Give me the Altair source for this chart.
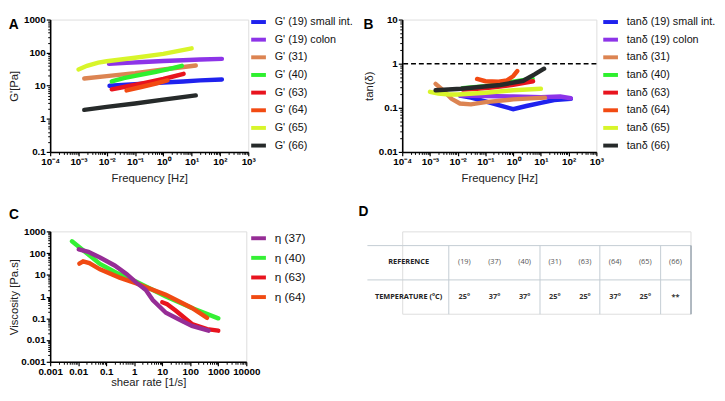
import altair as alt
import pandas as pd

FONT = "Liberation Sans"
TFONT = "Open Sans"

# ---------------- Panel A : G' [Pa] vs Frequency [Hz] ----------------
a_labels = ["G' (19) small int.", "G' (19) colon", "G' (31)", "G' (40)",
            "G' (63)", "G' (64)", "G' (65)", "G' (66)"]
colors8 = ["#1f22ee", "#8d34e8", "#dc8452", "#2ef02e",
           "#e8141e", "#f24a12", "#d8f52a", "#262a2a"]

a_f_19si = [0.0125, 0.05, 0.2, 1, 5, 20, 117]
a_g_19si = [10, 10.8, 11.5, 12.5, 13.5, 14.5, 15.5]
a_f_19co = [0.012, 0.05, 0.2, 1, 5, 20, 117]
a_g_19co = [46, 49, 52, 56, 59, 62, 65]
a_f_31 = [0.0016, 0.01, 0.1, 1, 14]
a_g_31 = [16.6, 19.5, 24, 31, 41]
a_f_40 = [0.015, 0.04, 0.1, 0.5, 1.5, 4.5]
a_g_40 = [13.5, 17, 20, 26, 32, 40]
a_f_63 = [0.015, 0.05, 0.2, 1, 5.2]
a_g_63 = [7.8, 9.5, 12, 16, 23]
a_f_64 = [0.05, 0.15, 0.5, 1.4]
a_g_64 = [7.2, 9, 11.5, 14.5]
a_f_65 = [0.001, 0.002, 0.005, 0.01, 0.1, 1, 10]
a_g_65 = [31, 40, 50, 55, 70, 92, 135]
a_f_66 = [0.0016, 0.01, 0.1, 1, 14]
a_g_66 = [1.87, 2.3, 2.9, 3.8, 5.1]

# ---------------- Panel B : tan(delta) vs Frequency [Hz] ----------------
b_labels = ["tan\u03b4 (19) small int.", "tan\u03b4 (19) colon", "tan\u03b4 (31)", "tan\u03b4 (40)",
            "tan\u03b4 (63)", "tan\u03b4 (64)", "tan\u03b4 (65)", "tan\u03b4 (66)"]
b_f_19si = [0.012, 0.03, 0.1, 0.3, 1, 3, 10, 30, 120]
b_t_19si = [0.19, 0.17, 0.14, 0.115, 0.093, 0.11, 0.13, 0.15, 0.16]
b_f_19co = [0.012, 0.1, 1, 10, 50, 120]
b_t_19co = [0.19, 0.185, 0.18, 0.175, 0.18, 0.165]
b_f_31 = [0.0016, 0.003, 0.006, 0.012, 0.03, 0.1, 1, 14]
b_t_31 = [0.35, 0.25, 0.16, 0.125, 0.12, 0.135, 0.155, 0.17]
b_f_40 = [0.015, 0.1, 0.34, 1, 5]
b_t_40 = [0.28, 0.31, 0.35, 0.39, 0.46]
b_f_63 = [0.015, 0.05, 0.2, 1, 5.2]
b_t_63 = [0.26, 0.27, 0.29, 0.33, 0.40]
b_f_64 = [0.05, 0.1, 0.3, 0.6, 1, 1.4]
b_t_64 = [0.45, 0.40, 0.39, 0.42, 0.52, 0.68]
b_f_65 = [0.001, 0.002, 0.005, 0.01, 0.1, 1, 10]
b_t_65 = [0.23, 0.21, 0.20, 0.20, 0.22, 0.25, 0.27]
b_f_66 = [0.0016, 0.013, 0.34, 2.3, 5.9, 13]
b_t_66 = [0.25, 0.27, 0.33, 0.41, 0.57, 0.77]
b_ref_line = [1.0]

# ---------------- Panel C : viscosity vs shear rate ----------------
c_labels = ["\u03b7 (37)", "\u03b7 (40)", "\u03b7 (63)", "\u03b7 (64)"]
c_colors = ["#962d96", "#35f035", "#e8141e", "#f04a12"]
c_r_40 = [0.006, 0.06, 0.23, 1.2, 13.5, 115, 1000]
c_v_40 = [350, 32, 12.6, 4.8, 1.0, 0.3, 0.1]
c_r_64 = [0.011, 0.015, 0.025, 0.06, 0.3, 1.2, 13.5, 115, 400]
c_v_64 = [33, 42, 35, 18, 7.5, 4, 1.2, 0.3, 0.105]
c_r_63 = [10, 15, 30, 115, 400, 1000]
c_v_63 = [0.55, 0.45, 0.23, 0.055, 0.032, 0.027]
c_r_37 = [0.0105, 0.023, 0.06, 0.2, 0.53, 1.17, 2.6, 4.6, 13.5, 40, 115, 450]
c_v_37 = [150, 114, 63, 27, 11, 4.5, 2.0, 0.7, 0.18, 0.089, 0.045, 0.027]

# ---------------- Panel D : table ----------------
t_rows = ["REFERENCE", "TEMPERATURE (\u00b0C)"]
t_refs = ["(19)", "(37)", "(40)", "(31)", "(63)", "(64)", "(65)", "(66)"]
t_temps = ["25\u00b0", "37\u00b0", "37\u00b0", "25\u00b0", "25\u00b0", "37\u00b0", "25\u00b0", "**"]
t_breaks = ["(19)", "(31)", "(64)", "(66)"]


def long_df(items):
    rows = []
    for lab, xs, ys in items:
        for xv, yv in zip(xs, ys):
            rows.append({"series": lab, "x": xv, "y": yv})
    return pd.DataFrame(rows)


dfA = long_df([
    (a_labels[0], a_f_19si, a_g_19si), (a_labels[1], a_f_19co, a_g_19co),
    (a_labels[2], a_f_31, a_g_31), (a_labels[3], a_f_40, a_g_40),
    (a_labels[4], a_f_63, a_g_63), (a_labels[5], a_f_64, a_g_64),
    (a_labels[6], a_f_65, a_g_65), (a_labels[7], a_f_66, a_g_66)])
dfB = long_df([
    (b_labels[0], b_f_19si, b_t_19si), (b_labels[1], b_f_19co, b_t_19co),
    (b_labels[2], b_f_31, b_t_31), (b_labels[3], b_f_40, b_t_40),
    (b_labels[4], b_f_63, b_t_63), (b_labels[5], b_f_64, b_t_64),
    (b_labels[6], b_f_65, b_t_65), (b_labels[7], b_f_66, b_t_66)])
dfC = long_df([
    (c_labels[1], c_r_40, c_v_40), (c_labels[3], c_r_64, c_v_64),
    (c_labels[2], c_r_63, c_v_63), (c_labels[0], c_r_37, c_v_37)])


def minor_vals(d0, d1):
    return [k * 10.0 ** d for d in range(d0, d1) for k in range(2, 10)]


def decades(d0, d1):
    return [10.0 ** d for d in range(d0, d1 + 1)]


SUP = ("['10\u207b\u2074','10\u207b\u00b3','10\u207b\u00b2','10\u207b\u00b9',"
       "'10\u2070','10\u00b9','10\u00b2','10\u00b3'][round(log(datum.value)/LN10)+4]")

AX = dict(domainColor="black", domainWidth=1.6, tickColor="black", tickWidth=1.2,
          tickSize=4, labelFont=FONT, labelFontSize=10, labelFontWeight="bold",
          labelColor="black", labelOverlap=False, labelFlush=False, grid=False,
          titleFont=FONT, titleFontSize=11.5, titleFontWeight="normal", titleColor="#222")
MINOR = dict(labels=False, title=None, tickSize=2.5, tickColor="black", tickWidth=1,
             domain=False, grid=False)


def panel(df, labels, colors, xd, yd, xtitle, ytitle, letter, width, height,
          sup_x, legend_font, legend_rowpad, legend_y, title_dy, xtpad, ytpad, extra=None):
    xs = alt.Scale(type="log", domain=[10.0 ** xd[0], 10.0 ** xd[1]])
    ys = alt.Scale(type="log", domain=[10.0 ** yd[0], 10.0 ** yd[1]])
    xaxis = dict(AX, values=decades(*xd), title=xtitle, labelPadding=1, titlePadding=xtpad)
    if sup_x:
        xaxis["labelExpr"] = SUP
    else:
        xaxis["format"] = "~g"
    yaxis = dict(AX, values=decades(*yd), format="~g", title=ytitle, labelPadding=1,
                 titlePadding=ytpad)
    main = alt.Chart(df).mark_line(strokeWidth=4.5, strokeCap="round", clip=True).encode(
        x=alt.X("x:Q", scale=xs, axis=alt.Axis(orient="bottom", **xaxis)),
        y=alt.Y("y:Q", scale=ys, axis=alt.Axis(orient="left", **yaxis)),
        color=alt.Color("series:N", sort=labels,
                        scale=alt.Scale(domain=labels, range=colors),
                        legend=alt.Legend(title=None, orient="none", legendX=203,
                                          legendY=legend_y, symbolType="stroke",
                                          symbolStrokeWidth=4, symbolSize=225,
                                          labelFont=FONT, labelFontSize=legend_font,
                                          labelColor="#111", labelOffset=7,
                                          labelLimit=200, rowPadding=legend_rowpad)),
        order=alt.Order("x:Q"),
    )
    minor = alt.Chart(df).mark_point(opacity=0).encode(
        x=alt.X("x:Q", scale=xs, axis=alt.Axis(orient="bottom",
                                               values=minor_vals(xd[0], xd[1]), **MINOR)),
        y=alt.Y("y:Q", scale=ys, axis=alt.Axis(orient="left",
                                               values=minor_vals(yd[0], yd[1]), **MINOR)),
    )
    layers = [main]
    if extra is not None:
        layers.append(extra)
    layers.append(minor)
    return alt.layer(*layers).resolve_axis(x="independent", y="independent").properties(
        width=width, height=height,
        title=alt.TitleParams(letter, anchor="start", frame="bounds", font=FONT,
                              fontSize=14, fontWeight="bold", color="black",
                              offset=0, dy=title_dy, baseline="alphabetic"))


ruleB = alt.Chart(pd.DataFrame({"y": b_ref_line})).mark_rule(
    strokeDash=[5, 3], strokeWidth=1.6, color="black").encode(
    y=alt.Y("y:Q", axis=None))

chartA = panel(dfA, a_labels, colors8, (-4, 3), (-1, 3), "Frequency [Hz]", "G'[Pa]",
               "A", 202, 135, True, 11, 0, -7, 31, 6, 4)
chartB = panel(dfB, b_labels, colors8, (-4, 3), (-2, 1), "Frequency [Hz]", "tan(\u03b4)",
               "B", 198, 135, True, 11, 0, -7, 31, 6, 4, extra=ruleB)
chartC = panel(dfC, c_labels, c_colors, (-3, 4), (-3, 3), "shear rate [1/s]",
               "Viscosity [Pa.s]", "C", 200, 133, False, 12, 2, -2.5, 6, 0, 1)

# ---------------- Table ----------------
tdf = pd.DataFrame(
    [{"row": t_rows[0], "ref": r, "txt": r} for r in t_refs] +
    [{"row": t_rows[1], "ref": r, "txt": t} for r, t in zip(t_refs, t_temps)])
LINE = "#c3ccd3"
D_H = 84
tx = alt.Scale(type="band", domain=t_refs, paddingInner=0, paddingOuter=0.78, align=1)
ty = alt.Scale(type="band", domain=t_rows, paddingInner=0, paddingOuter=0.2, align=1)

t_main = alt.Chart(tdf).transform_filter(alt.datum.row == t_rows[0]).mark_text(
    font=TFONT, fontSize=7.5, color="#555").encode(
    x=alt.X("ref:N", sort=t_refs, scale=tx,
            axis=alt.Axis(values=t_breaks, bandPosition=0, grid=False, labels=False,
                          ticks=True, tickSize=70, tickColor=LINE, tickWidth=1,
                          domain=False, title=None, orient="top", offset=-D_H)),
    y=alt.Y("row:N", sort=t_rows, scale=ty,
            axis=alt.Axis(orient="left", bandPosition=0, grid=True, gridColor=LINE,
                          gridWidth=1, ticks=True, tickSize=36, tickColor=LINE,
                          tickWidth=1, labelAlign="center", labelPadding=-42,
                          labelFont=TFONT, labelFontWeight="bold", labelFontSize=7.5,
                          labelColor="#222", labelOverlap=False, domain=False,
                          title=None)),
    text="txt:N")
t_vals = alt.Chart(tdf).transform_filter(alt.datum.row == t_rows[1]).mark_text(
    font=TFONT, fontSize=7.5, fontWeight="bold", color="#333").encode(
    x=alt.X("ref:N", sort=t_refs, scale=tx, axis=None),
    y=alt.Y("row:N", sort=t_rows, scale=ty, axis=None),
    text="txt:N")
t_border = alt.Chart(tdf).mark_point(opacity=0).encode(
    x=alt.X("ref:N", sort=t_refs, scale=tx,
            axis=alt.Axis(values=["(66)"], bandPosition=1, grid=False, labels=False,
                          ticks=True, tickSize=70, tickColor="#8d9ba7", tickWidth=1.3,
                          domain=False, title=None, orient="top", offset=-D_H)),
    y=alt.Y("row:N", sort=t_rows, scale=ty, axis=None))
chartD = alt.layer(t_main, t_vals, t_border).resolve_axis(
    x="independent", y="independent").properties(
    width=294, height=D_H,
    title=alt.TitleParams("D", anchor="start", frame="bounds", font=FONT, fontSize=14,
                          fontWeight="bold", color="black", offset=0, dy=-2, dx=-8,
                          baseline="alphabetic"))

chart = alt.concat(chartA, chartB, chartC, chartD, columns=2,
                   spacing={"row": 81, "column": 157}, bounds="flush").resolve_scale(
    color="independent").properties(padding=0).configure_view(
    stroke=None).configure(background="white")

chart.save("out.html", embed_options={"renderer": "svg", "actions": False})
